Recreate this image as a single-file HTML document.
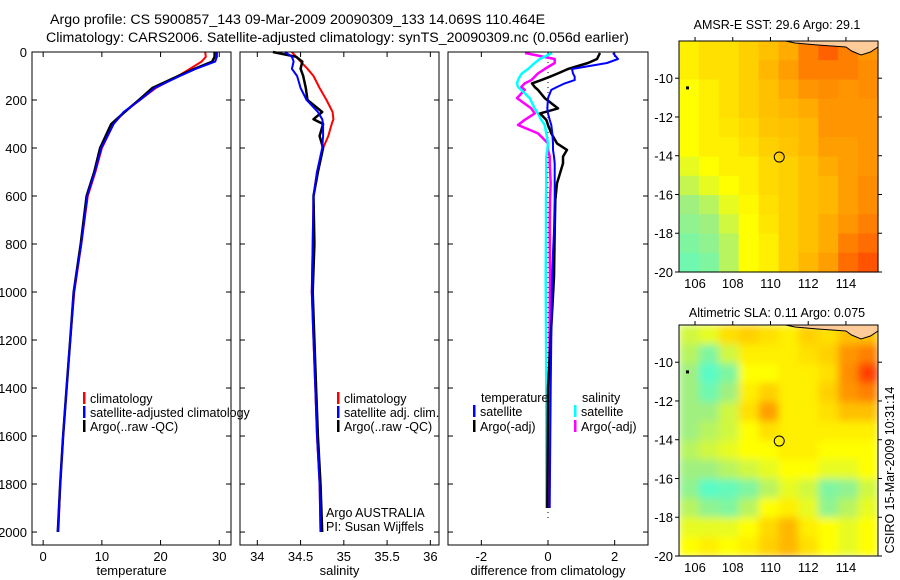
<!DOCTYPE html>
<html><head><meta charset="utf-8"><style>
html,body{margin:0;padding:0;background:#fff}
svg{display:block;font-family:"Liberation Sans",sans-serif}
</style></head><body>
<svg id="fig" width="900" height="580" viewBox="0 0 900 580" xmlns="http://www.w3.org/2000/svg">
<defs>
<filter id="blur" x="0" y="0" width="1" height="1"><feGaussianBlur stdDeviation="4" edgeMode="duplicate"/></filter>
<clipPath id="slaclip"><rect x="679" y="325" width="199" height="231"/></clipPath>
</defs>
<text x="50" y="24" font-size="14.2">Argo profile: CS 5900857_143 09-Mar-2009 20090309_133 14.069S 110.464E</text>
<text x="46" y="42" font-size="14.2">Climatology: CARS2006. Satellite-adjusted climatology: synTS_20090309.nc (0.056d earlier)</text>
<text x="777" y="29" font-size="12.5" text-anchor="middle">AMSR-E SST: 29.6 Argo: 29.1</text>
<text x="777" y="317" font-size="12.5" text-anchor="middle">Altimetric SLA: 0.11 Argo: 0.075</text>
<text transform="translate(894,470) rotate(-90)" font-size="12.5" text-anchor="middle">CSIRO 15-Mar-2009 10:31:14</text>
</svg>
<script>
// ---- data ----
const tDepth=[0,20,40,70,100,150,200,250,300,400,500,600,800,1000,1200,1400,1600,1800,2000];
const tClim=[27.6,27.7,27.0,25.0,23.0,19.2,16.5,13.8,12.0,10.0,8.9,7.6,6.5,5.3,4.6,4.0,3.4,2.9,2.6];
const tSat=[29.6,29.6,29.3,26.0,23.3,19.0,16.5,13.7,12.0,9.9,8.8,7.5,6.5,5.2,4.6,4.0,3.4,2.9,2.5];
const tArgo=[29.2,29.2,28.8,25.8,23.0,18.6,16.3,13.9,11.6,9.7,8.7,7.4,6.4,5.2,4.6,4.0,3.4,2.9,2.5];
const sDepth=[0,20,40,70,100,150,200,250,280,300,350,400,500,600,800,1000,1200,1400,1600,1800,2000];
const sClim=[34.40,34.45,34.50,34.58,34.65,34.72,34.80,34.87,34.88,34.86,34.82,34.76,34.69,34.65,34.64,34.63,34.65,34.67,34.69,34.72,34.73];
const sSat=[34.32,34.40,34.42,34.40,34.46,34.50,34.57,34.70,34.75,34.76,34.76,34.75,34.69,34.65,34.64,34.63,34.65,34.67,34.69,34.72,34.73];
const sArgo=[34.18,34.45,34.52,34.50,34.53,34.56,34.58,34.75,34.65,34.76,34.72,34.76,34.70,34.65,34.66,34.64,34.66,34.68,34.70,34.73,34.75];
const dDepth=[4,29,46,71,89,103,117,131,146,158,192,235,256,283,304,339,381,408,436,464,547,617,742,936,1400,1900];
const dTsat=[1.95,2.1,1.77,0.72,0.75,0.8,0.8,0.5,0.27,0.1,0.0,-0.02,0.0,0.05,0.1,0.13,0.15,0.15,0.18,0.2,0.2,0.2,0.18,0.12,0.08,0.05];
const dTargo=[1.56,1.47,1.2,0.6,0.3,0.06,-0.2,-0.48,-0.4,-0.3,-0.1,0.3,-0.24,-0.05,0.0,0.1,0.27,0.57,0.45,0.45,0.27,0.22,0.2,0.18,0.0,-0.02];
const dSsat=[0.12,-0.24,-0.4,-0.6,-0.78,-0.85,-0.9,-0.93,-0.9,-0.8,-0.55,-0.4,-0.3,-0.2,-0.1,-0.05,0.0,-0.02,-0.05,-0.05,-0.05,-0.06,-0.06,-0.07,-0.05,-0.05];
const dSargo=[-0.69,0.2,0.2,-0.1,-0.3,-0.4,-0.5,-0.7,-0.8,-0.7,-0.93,-0.5,-0.4,-0.7,-0.9,-0.3,0.0,0.0,0.05,0.05,0.08,0.06,0.05,0.06,0.04,0.03];
const tTicks=[0,10,20,30];
const sTicks=[34,34.5,35,35.5,36];
const sTickLabels=["34","34.5","35","35.5","36"];
const dTicks=[-2,0,2];
const depthTicks=[0,200,400,600,800,1000,1200,1400,1600,1800,2000];
const lonTicks=[106,108,110,112,114];
const latTicks=[-10,-12,-14,-16,-18,-20];
const sstGrid=[
[.55,.6,.6,.65,.7,.75,.85,.9,.85,.8],
[.55,.6,.6,.65,.72,.78,.85,.85,.85,.82],
[.5,.55,.6,.65,.7,.75,.8,.82,.8,.82],
[.5,.55,.6,.65,.7,.72,.75,.8,.8,.8],
[.5,.55,.58,.62,.68,.7,.72,.8,.8,.8],
[.5,.55,.55,.6,.65,.68,.72,.78,.78,.8],
[.45,.5,.55,.55,.62,.65,.7,.75,.78,.8],
[.38,.45,.5,.55,.62,.65,.7,.72,.78,.82],
[.3,.35,.45,.52,.6,.65,.7,.72,.78,.82],
[.25,.3,.4,.5,.58,.65,.7,.75,.8,.85],
[.2,.25,.35,.5,.55,.65,.7,.75,.85,.88],
[.15,.2,.35,.5,.55,.65,.72,.78,.88,.92]];
const slaGrid=[
[.4,.45,.6,.65,.6,.55,.65,.6,.7,.7],
[.35,.2,.4,.55,.55,.55,.6,.65,.8,.85],
[.3,.08,.2,.5,.5,.55,.55,.6,.82,.95],
[.3,.15,.3,.55,.65,.55,.55,.65,.8,.85],
[.3,.3,.4,.6,.78,.55,.55,.6,.7,.7],
[.3,.35,.4,.5,.6,.55,.55,.55,.55,.55],
[.35,.4,.45,.5,.5,.55,.55,.5,.5,.5],
[.3,.3,.35,.4,.45,.5,.5,.45,.45,.5],
[.25,.08,.12,.2,.35,.45,.4,.2,.25,.4],
[.35,.25,.2,.35,.5,.55,.45,.25,.35,.45],
[.45,.45,.45,.5,.62,.72,.55,.5,.45,.5],
[.5,.55,.5,.55,.65,.72,.6,.5,.45,.5]];
const floatLon=110.464, floatLat=-14.069;

// ---- helpers ----
const NS="http://www.w3.org/2000/svg";
const svg=document.getElementById('fig');
function mk(tag,attrs,parent){const e=document.createElementNS(NS,tag);for(const k in attrs)e.setAttribute(k,attrs[k]);(parent||svg).appendChild(e);return e;}
function lin(d0,d1,r0,r1){return v=>r0+(v-d0)*(r1-r0)/(d1-d0);}
const PT=52,PB=545;
const yD=lin(0,2054,PT,PB);

function panel(name,x0,x1,dom,ticks,labels,xtitle){
  const g=mk('g',{});
  
  
  const xs=lin(dom[0],dom[1],x0,x1);
  ticks.forEach((t,i)=>{
    const x=xs(t);
    const a=mk('line',{x1:x,x2:x,y1:PT,y2:PT+5,stroke:'#000'},g);
    
    
    const b=mk('line',{x1:x,x2:x,y1:PB,y2:PB-5,stroke:'#000'},g);
    
    
    const tx=mk('text',{x:x,y:PB+16,'font-size':'13','text-anchor':'middle'},g);
    tx.textContent=labels[i];
    
    
  });
  depthTicks.forEach(d=>{
    const y=yD(d);
    const a=mk('line',{x1:x0,x2:x0+5,y1:y,y2:y,stroke:'#000'},g);
    
    
    const b=mk('line',{x1:x1,x2:x1-5,y1:y,y2:y,stroke:'#000'},g);
    
    
  });
  const t=mk('text',{x:(x0+x1)/2,y:575,'font-size':'13','text-anchor':'middle'},g);
  t.textContent=xtitle;
  
  
  return {g,xs,x0,x1};
}
function series(p,vals,depths,color,w,name){
  const pts=vals.map((v,i)=>p.xs(v).toFixed(1)+','+yD(depths[i]).toFixed(1)).join(' ');
  const l=mk('polyline',{points:pts,fill:'none',stroke:color,'stroke-width':w,'stroke-linejoin':'round'},p.g);
  
  
}
function frame(p){
  const r=mk('rect',{x:p.x0,y:PT,width:p.x1-p.x0,height:PB-PT,fill:'none',stroke:'#000'},p.g);
  
  
}
function legend(g,x,y,color,label,name){
  const b=mk('rect',{x:x,y:y-11,width:2.5,height:12,fill:color},g);
  
  
  const t=mk('text',{x:x+7,y:y,'font-size':'12.5'},g);
  t.textContent=label;
  
  
}

depthTicks.forEach(d=>{
  const t=mk('text',{x:27,y:yD(d)+5,'font-size':'13','text-anchor':'end'});
  t.textContent=String(d);
  
  
});

const p1=panel('temperature-panel',32,231,[-1.9,32],tTicks,tTicks.map(String),'temperature');
series(p1,tClim,tDepth,'#f00',2,'temperature-climatology-line');
series(p1,tArgo,tDepth,'#000',2.5,'temperature-argo-line');
series(p1,tSat,tDepth,'#00f',2,'temperature-satellite-line');
frame(p1);
legend(p1.g,83,403,'#f00','climatology','legend-climatology');
legend(p1.g,83,417,'#00f','satellite-adjusted climatology','legend-satellite-adjusted');
legend(p1.g,83,431,'#000','Argo(..raw -QC)','legend-argo');

const p2=panel('salinity-panel',240,439,[33.8,36.1],sTicks,sTickLabels,'salinity');
series(p2,sClim,sDepth,'#f00',2,'salinity-climatology-line');
series(p2,sArgo,sDepth,'#000',2.5,'salinity-argo-line');
series(p2,sSat,sDepth,'#00f',2,'salinity-satellite-line');
frame(p2);
legend(p2.g,337,403,'#f00','climatology','legend-sal-climatology');
legend(p2.g,337,417,'#00f','satellite adj. clim.','legend-sal-satellite');
legend(p2.g,337,431,'#000','Argo(..raw -QC)','legend-sal-argo');
[['Argo AUSTRALIA',517,'credit-argo-australia'],['PI: Susan Wijffels',531,'credit-pi']].forEach(a=>{
  const t=mk('text',{x:326,y:a[1],'font-size':'12.5'},p2.g);
  t.textContent=a[0];
  
  
});

const p3=panel('difference-panel',448,648,[-3,3],dTicks,dTicks.map(String),'difference from climatology');
const zl=mk('line',{x1:p3.xs(0),x2:p3.xs(0),y1:PT,y2:yD(1950),stroke:'#000','stroke-dasharray':'1,4'},p3.g);


series(p3,dSargo,dDepth,'#f0f',2.5,'salinity-argo-diff-line');
series(p3,dSsat,dDepth,'#0ff',2.5,'salinity-satellite-diff-line');
series(p3,dTargo,dDepth,'#000',2.5,'temperature-argo-diff-line');
series(p3,dTsat,dDepth,'#00f',2,'temperature-satellite-diff-line');
frame(p3);
[['temperature',481,402,'legend-temperature-heading'],['salinity',582,402,'legend-salinity-heading']].forEach(a=>{
  const t=mk('text',{x:a[1],y:a[2],'font-size':'12.5'},p3.g);
  t.textContent=a[0];
  
  
});
legend(p3.g,473,416,'#00f','satellite','legend-temp-satellite');
legend(p3.g,473,431,'#000','Argo(-adj)','legend-temp-argo');
legend(p3.g,574,416,'#0ff','satellite','legend-sal-satellite-diff');
legend(p3.g,574,431,'#f0f','Argo(-adj)','legend-sal-argo-diff');

// ---- maps ----
function cmap(v){
  const stops=[[0,[64,255,224]],[0.3,[160,240,128]],[0.5,[255,255,0]],[0.7,[255,192,0]],[0.85,[255,128,0]],[1,[255,32,0]]];
  for(let i=1;i<stops.length;i++){
    if(v<=stops[i][0]){const a=stops[i-1],b=stops[i];const f=(v-a[0])/(b[0]-a[0]);
      return 'rgb('+a[1].map((c,k)=>Math.round(c+(b[1][k]-c)*f)).join(',')+')';}
  }
  return 'rgb(255,32,0)';
}
function map(name,grid,x0,y0,x1,y1,smooth){
  const g=mk('g',{});
  
  
  const xl=lin(105.15,115.7,x0,x1), yl=lin(-8.08,-20,y0,y1);
  const rows=grid.length, cols=grid[0].length;
  const cw=(x1-x0)/cols, ch=(y1-y0)/rows;
  const cg=mk('g',smooth?{'clip-path':'url(#slaclip)'}:{},g);
  const inner=mk('g',smooth?{filter:'url(#blur)'}:{},cg);
  grid.forEach((row,r)=>row.forEach((v,c)=>{
    const cell=mk('rect',{x:x0+c*cw,y:y0+r*ch,width:cw+0.6,height:ch+0.6,fill:cmap(v)},inner);
    
    
  }));
  const land=mk('path',{d:`M${xl(110.8)},${y0} L${xl(111.3)},${y0+2} L${xl(112.5)},${y0+4} L${xl(114)},${y0+6} L${xl(114.3)},${y0+10} L${xl(114.8)},${y0+14} L${xl(115.3)},${y0+11} L${x1},${y0+6} L${x1},${y0} Z`,fill:'#ffcc99',stroke:'#000','stroke-width':1},g);
  
  
  const isl=mk('rect',{x:xl(105.6)-1.5,y:yl(-10.5)-1.5,width:3,height:3,fill:'#000'},g);
  
  
  const circ=mk('circle',{cx:xl(floatLon),cy:yl(floatLat),r:5,fill:'none',stroke:'#000'},g);
  
  
  const fr=mk('rect',{x:x0,y:y0,width:x1-x0,height:y1-y0,fill:'none',stroke:'#000'},g);
  
  
  lonTicks.forEach(l=>{
    const x=xl(l);
    const a=mk('line',{x1:x,x2:x,y1:y0,y2:y0-4,stroke:'#000'},g);
    
    
    const t=mk('text',{x:x,y:y1+16,'font-size':'13','text-anchor':'middle'},g);
    t.textContent=String(l);
    
    
  });
  latTicks.forEach(l=>{
    const y=yl(l);
    const a=mk('line',{x1:x1,x2:x1+4,y1:y,y2:y,stroke:'#000'},g);
    
    
    const b=mk('line',{x1:x0,x2:x0-4,y1:y,y2:y,stroke:'#000'},g);
    
    
    const t=mk('text',{x:x0-6,y:y+5,'font-size':'13','text-anchor':'end'},g);
    t.textContent=String(l);
    
    
  });
}
map('sst-map',sstGrid,679,41,878,272,false);
map('sla-map',slaGrid,679,325,878,556,true);
</script>
</body></html>
